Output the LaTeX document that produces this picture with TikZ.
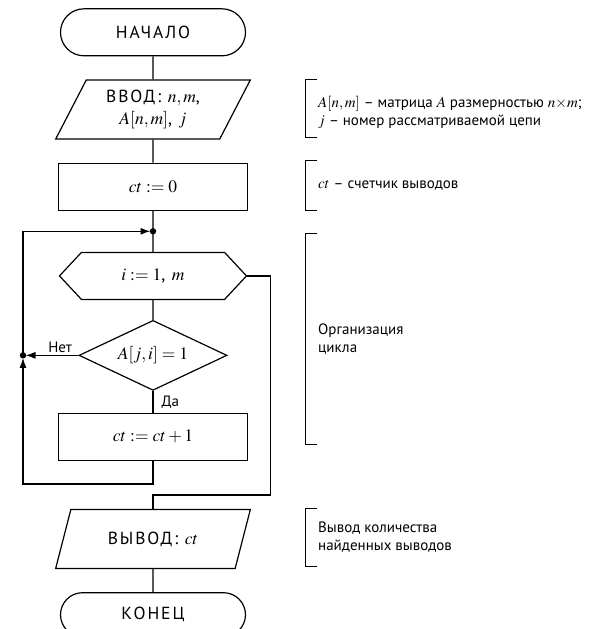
\documentclass[tikz,border=0pt]{standalone}
\usepackage{mathptmx}
\usepackage[no-math]{fontspec}
\setmainfont{PT Sans}
\newfontfamily\boxfont[LetterSpace=11]{PT Sans}
\usetikzlibrary{matrix,calc,arrows.meta,shapes.geometric,shapes.misc,shapes.symbols}

\begin{document}
\begin{tikzpicture}[x=1pt,y=1pt]
  \useasboundingbox (0,0) rectangle (608,-629);

  \matrix (m) [matrix of nodes,
    anchor=north, inner sep=0pt,
    row sep=23pt,
    nodes={draw,
      line width=1.2pt,
      anchor=center,
      text centered,
      inner sep=2pt,
      font=\boxfont\fontsize{17.5}{22}\selectfont
    },
    term/.style={rounded rectangle, minimum width=189pt, minimum height=47pt},
    io/.style={trapezium, trapezium left angle=65, trapezium right angle=115,
      trapezium stretches=true, minimum width=195pt, minimum height=59pt},
    proc/.style={rectangle, minimum width=189pt, minimum height=47pt},
    loophead/.style={signal, signal to=west and east, signal pointer angle=94,
      minimum width=187pt, minimum height=47pt},
    test/.style={diamond, aspect=2.1, minimum width=148pt, minimum height=70pt, inner sep=0pt}
    ] at (153,-8)
  {
    % m-1-1
    |[term]| {НАЧАЛО}
  \\
    % m-2-1
    |[io]| {\begin{tabular}{@{}c@{}}ВВОД: $n,m$,\\ $A[n,m]$, $j$\end{tabular}}
  \\
    % m-3-1
    |[proc]| {$ct := 0$}
  \\[18pt]
    % m-4-1
    |[loophead]| {$i := 1$, $m$}
  \\[-3pt]
    % m-5-1
    |[test]| {$A[j,i] = 1$}
  \\[-1pt]
    % m-6-1
    |[proc]| {$ct := ct + 1$}
  \\[25pt]
    % m-7-1
    |[io]| {ВЫВОД: $ct$}
  \\
    % m-8-1
    |[term, minimum height=44pt]| {КОНЕЦ}
  \\
  };

  \coordinate (jn) at ($(m-3-1.south)!0.5!(m-4-1.north)$);
  \coordinate (lp-t) at ($(jn)+(-130,0)$);
  \coordinate (lp-m) at (lp-t |- m-5-1.west);
  \coordinate (lp-b) at ($(lp-t |- m-6-1.south)+(0,-23)$);
  \coordinate (rt) at ($(m-4-1.east)+(23,0)$);
  \coordinate (rb) at ($(rt |- m-7-1.north)+(0,14)$);

  \tikzset{flow/.style={line width=1.2pt},
           arr/.style={flow, -{Latex[length=10pt,width=7pt]}, shorten >=2.5pt},
           lbl/.style={font=\fontsize{15}{18}\selectfont, inner sep=2pt}};

  {
      \draw[flow] (m-1-1) -- (m-2-1);
      \draw[flow] (m-2-1) -- (m-3-1);
      \draw[flow] (m-3-1) -- (jn) -- (m-4-1);
      \draw[flow] (m-4-1) -- (m-5-1);
      \draw[flow] (m-5-1.south) -- node [lbl, right, xshift=6pt] {Да} (m-6-1.north);
      \draw[arr] (m-5-1.west) -- node [lbl, above, pos=0.33] {Нет} (lp-m);
      \draw[arr] (m-6-1.south) |- (lp-b) -- (lp-m);
      \draw[arr] (lp-m) -- (lp-t) -- (jn);
      \draw[flow] (m-4-1.east) -- (rt) -- (rb) -| (m-7-1.north);
      \draw[flow] (m-7-1) -- (m-8-1);
      \fill (jn) circle (3.2pt);
      \fill (lp-m) circle (3.2pt);
  };

  \tikzset{bracket/.style={line width=1pt},
           note/.style={anchor=west, align=left, inner sep=0pt,
                        font=\fontsize{15}{18}\selectfont}};

  \coordinate (br) at (305,0);
  \coordinate (b1-t) at (br |- m-2-1.north);
  \coordinate (b1-b) at ($(br |- m-2-1.south)+(0,2)$);
  \coordinate (b2-t) at ($(br |- m-3-1.north)+(0,2)$);
  \coordinate (b2-b) at (br |- m-3-1.south);
  \coordinate (b3-t) at ($(br |- jn)+(0,-2)$);
  \coordinate (b3-b) at ($(br |- m-6-1.south)+(0,16)$);
  \coordinate (b4-t) at (br |- m-7-1.north);
  \coordinate (b4-b) at ($(br |- m-7-1.south)+(0,3)$);

  \foreach \b in {b1,b2,b3,b4}
    \draw[bracket] (\b-t) ++(12,0) -- (\b-t) -- (\b-b) -- ++(12,0);

  \node (note in) [note] at ($(b1-t)!0.5!(b1-b)+(13,-4)$)
    {$A[n,m]$ – матрица $A$ размерностью $n{\times}m$;\\ $j$ – номер рассматриваемой цепи};
  \node (note ct) [note] at ($(b2-t)!0.5!(b2-b)+(13,0)$) {$ct$ – счетчик выводов};
  \node (note loop) [note] at ($(b3-t)!0.5!(b3-b)+(13,0)$) {Организация\\цикла};
  \node (note out) [note] at ($(b4-t)!0.5!(b4-b)+(13,0)$) {Вывод количества\\найденных выводов};
\end{tikzpicture}
\end{document}
